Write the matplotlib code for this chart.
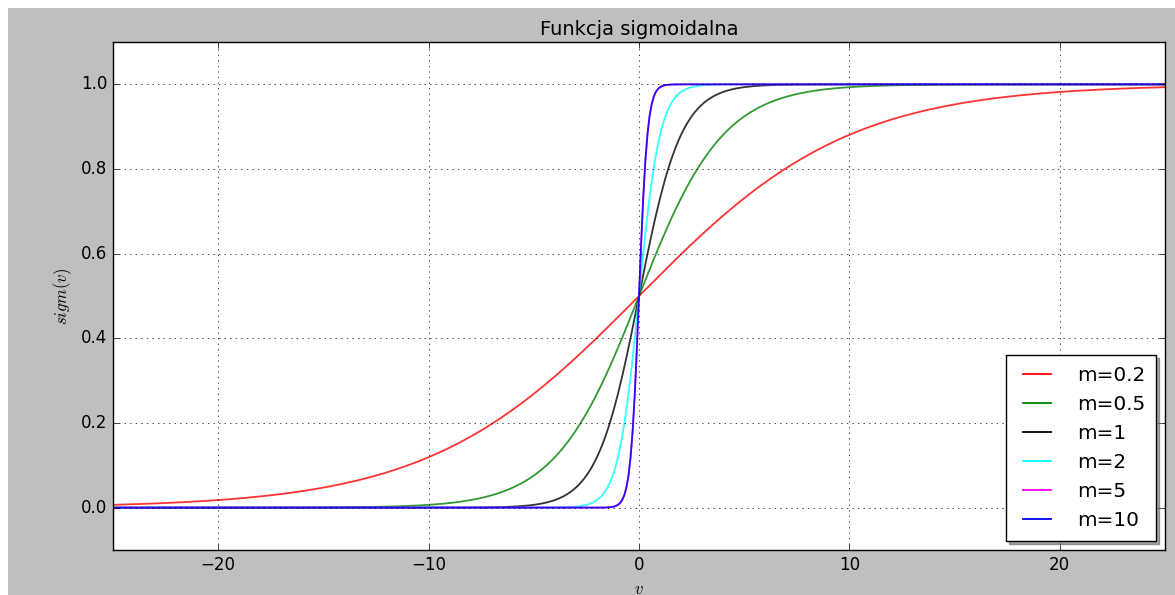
import numpy as np
import matplotlib
matplotlib.use('Agg')
import matplotlib.pyplot as plt
from matplotlib.patches import Rectangle

plt.style.use('classic')

# slopes of the sigmoid curves as labelled, and the slope each line follows in
# the picture (the "m=10" line lies right on top of the "m=5" one)
LABEL_M = [0.2, 0.5, 1, 2, 5, 10]
DRAWN_M = [0.2, 0.5, 1, 2, 5, 5]
COLORS = ['#ff0000', '#008000', '#000000', '#00ffff', '#ff00ff', '#0000ff']

V_MIN, V_MAX, N_POINTS = -25, 25, 501
X_TICKS = [-20, -10, 0, 10, 20]
Y_TICKS = [0.0, 0.2, 0.4, 0.6, 0.8, 1.0]

v = np.linspace(V_MIN, V_MAX, N_POINTS)

fig = plt.figure(figsize=(11.75, 5.95), dpi=100)
fig.patch.set_facecolor('#bfbfbf')
# white margins of the original screenshot
fig.patches.append(Rectangle((0, 0), 8 / 1175, 1, transform=fig.transFigure,
                             facecolor='white', edgecolor='none', zorder=-10))
fig.patches.append(Rectangle((0, 1 - 8 / 595), 1, 8 / 595, transform=fig.transFigure,
                             facecolor='white', edgecolor='none', zorder=-10))

ax = fig.add_axes([113 / 1175, 45 / 595, 1052 / 1175, 508 / 595])

for m_lab, m, c in zip(LABEL_M, DRAWN_M, COLORS):
    ax.plot(v, 1.0 / (1.0 + np.exp(-m * v)), color=c, alpha=0.8, lw=1.3,
            label=f'm={m_lab:g}')

ax.set_xlim(V_MIN, V_MAX)
ax.set_ylim(-0.1, 1.1)
ax.set_xticks(X_TICKS)
ax.set_yticks(Y_TICKS)
ax.tick_params(labelsize=12)
ax.grid(True)
ax.set_title('Funkcja sigmoidalna', fontsize=14)
ax.set_xlabel('$v$', fontsize=12)
ax.set_ylabel('$sigm(v)$', fontsize=12)

leg = ax.legend(loc='lower right', shadow=True, fontsize=14.4,
                borderpad=0.55, handletextpad=1.0, borderaxespad=0.45)
for line in leg.get_lines():
    line.set_alpha(1.0)

fig.savefig('out.png', dpi=100, facecolor=fig.get_facecolor())
